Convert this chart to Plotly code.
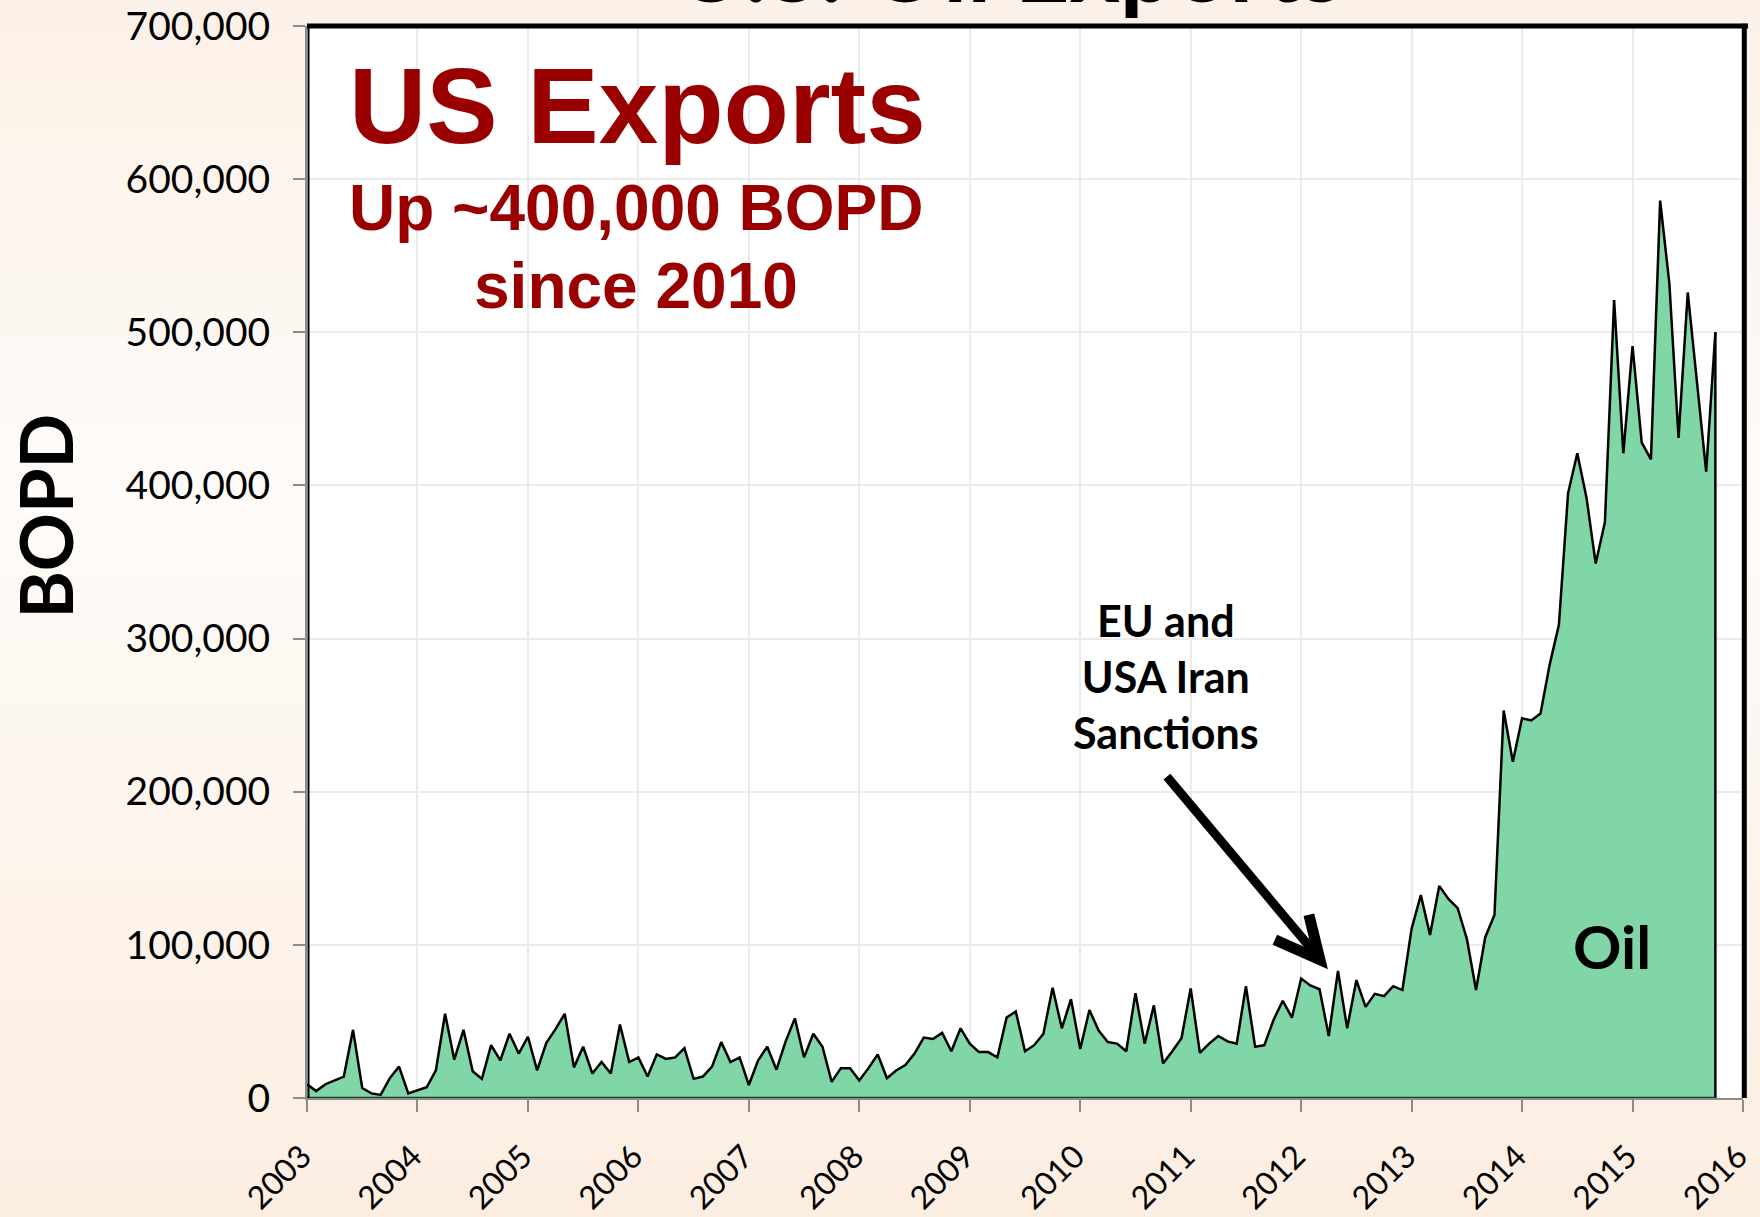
import plotly.graph_objects as go

# Monthly US crude oil exports, barrels of oil per day (BOPD)
years = list(range(2003, 2016))
exports_2003 = [9000, 4500, 9000, 11500, 14000, 44500, 6500, 3000, 2000, 13000, 20500, 3000]
exports_2004 = [5000, 7000, 18000, 55000, 25000, 44500, 17500, 12500, 34500, 24500, 42000, 29000]
exports_2005 = [40000, 18000, 36000, 45000, 55000, 20000, 33500, 16000, 23500, 16000, 48000, 23500]
exports_2006 = [26500, 14000, 28500, 25500, 26500, 32500, 12500, 14000, 20500, 36500, 23500, 26500]
exports_2007 = [8500, 24500, 33500, 18500, 37000, 52000, 26500, 42000, 33500, 10500, 19500, 19500]
exports_2008 = [11500, 19500, 28500, 13000, 18000, 21500, 29000, 39500, 38500, 42500, 30500, 45500]
exports_2009 = [35500, 30000, 30000, 26500, 52500, 56500, 30500, 34500, 42000, 72000, 45500, 64500]
exports_2010 = [32000, 57500, 44000, 36500, 35500, 30500, 68500, 35500, 60500, 22500, 30500, 39000]
exports_2011 = [71500, 29500, 35500, 40500, 37000, 35500, 73000, 33500, 34500, 51000, 63500, 52500]
exports_2012 = [78000, 73500, 71000, 40500, 83000, 45500, 77000, 59500, 68000, 66500, 73000, 70500]
exports_2013 = [110500, 132500, 106500, 138500, 130000, 124000, 104000, 70500, 105000, 119500, 253000, 219500]
exports_2014 = [248000, 246500, 251000, 283000, 309000, 395000, 421000, 392000, 349000, 376000, 521000, 421000]
exports_2015 = [491000, 428000, 417000, 586000, 532000, 431000, 526000, 467000, 409000, 500000]

monthly = [exports_2003, exports_2004, exports_2005, exports_2006, exports_2007,
           exports_2008, exports_2009, exports_2010, exports_2011, exports_2012,
           exports_2013, exports_2014, exports_2015]

tick_years = list(range(2003, 2017))
tick_year_text = [str(t) for t in tick_years]
y_ticks = [0, 100000, 200000, 300000, 400000, 500000, 600000, 700000]
y_tick_text = ["0", "100,000", "200,000", "300,000", "400,000", "500,000", "600,000", "700,000"]

# months placed at fractional years
x_vals, y_vals = [], []
for yr, vals in zip(years, monthly):
    for m, v in enumerate(vals):
        x_vals.append(yr + m / 12)
        y_vals.append(v)

W, H = 1760, 1217
ML, MR, MT, MB = 307, 17, 26, 119

DARK_RED = "#9a0000"
FILL = "#80d6a7"
GRID = "#ebebeb"
AXIS_GREY = "#8c8c8c"
CAL = "Lato, 'Noto Sans', sans-serif"
ARIAL = "'Liberation Sans', Arial, sans-serif"

fig = go.Figure()
fig.add_trace(go.Scatter(
    x=x_vals, y=y_vals, mode="lines", fill="tozeroy",
    fillcolor=FILL, line=dict(color="black", width=2.5),
    hoverinfo="skip",
))

shapes = []

# soft peach background, lighter toward the middle
plot_h = H - MT - MB
def py_to_paper(py):
    return (H - MB - py) / plot_h

top_c = (252, 241, 231)
mid_c = (254, 251, 248)
bot_c = (252, 237, 225)
n_bands = 40
for k in range(n_bands):
    y0 = H * k / n_bands
    y1 = H * (k + 1) / n_bands + 1
    t = (k + 0.5) / n_bands
    if t < 0.42:
        f = t / 0.42
        c = [top_c[i] + (mid_c[i] - top_c[i]) * f for i in range(3)]
    else:
        f = (t - 0.42) / 0.58
        c = [mid_c[i] + (bot_c[i] - mid_c[i]) * f for i in range(3)]
    shapes.append(dict(type="rect", xref="paper", yref="paper",
                       x0=-0.3, x1=1.1, y0=py_to_paper(y1), y1=py_to_paper(y0),
                       fillcolor="rgb(%d,%d,%d)" % tuple(int(round(v)) for v in c),
                       line=dict(width=0), layer="below"))
shapes.append(dict(type="rect", xref="paper", yref="paper", x0=0, x1=1, y0=0, y1=1,
                   fillcolor="white", line=dict(width=0), layer="below"))

# outline of the filled area: right edge and baseline
shapes.append(dict(type="line", xref="x", yref="y",
                   x0=x_vals[-1], x1=x_vals[-1], y0=0, y1=y_vals[-1],
                   line=dict(color="black", width=2.5)))
shapes.append(dict(type="line", xref="x", yref="y",
                   x0=x_vals[0], x1=x_vals[-1], y0=0, y1=0,
                   line=dict(color="#1e3b29", width=2.5)))

# plot frame: heavy top and right, thin left
shapes.append(dict(type="line", xref="paper", yref="paper", x0=0, x1=1.0035, y0=1, y1=1,
                   line=dict(color="black", width=5)))
shapes.append(dict(type="line", xref="paper", yref="paper", x0=1.0009, x1=1.0009, y0=0, y1=1.002,
                   line=dict(color="black", width=5)))
shapes.append(dict(type="line", xref="paper", yref="paper", xsizemode="pixel", xanchor=0,
                   x0=1.5, x1=1.5, y0=0, y1=1, line=dict(color="black", width=2)))

# arrow pointing at the sanctions period
shapes.append(dict(type="line", xref="x", yref="y",
                   x0=2010.785, y0=209800, x1=2012.15, y1=92500,
                   line=dict(color="black", width=9)))
shapes.append(dict(type="path", xref="x", yref="y",
                   path="M 2011.762,103300 L 2012.17,90300 L 2012.07,119700",
                   line=dict(color="black", width=11)))

annotations = [
    dict(text="U.S. Oil Exports", xref="paper", yref="paper", x=0.489, y=1.0,
         yanchor="bottom", xanchor="center", yshift=2, showarrow=False,
         font=dict(family=CAL, size=96, color="black", weight="bold")),
    dict(text="US Exports", xref="x", yref="y", x=2005.99, y=648000,
         showarrow=False, xanchor="center", yanchor="middle",
         font=dict(family=ARIAL, size=107, color=DARK_RED, weight="bold")),
    dict(text="Up ~400,000 BOPD", xref="x", yref="y", x=2005.98, y=581000,
         showarrow=False, xanchor="center", yanchor="middle",
         font=dict(family=ARIAL, size=64, color=DARK_RED, weight="bold")),
    dict(text="since 2010", xref="x", yref="y", x=2005.98, y=530000,
         showarrow=False, xanchor="center", yanchor="middle",
         font=dict(family=ARIAL, size=64, color=DARK_RED, weight="bold")),
    dict(text="EU and<br>USA Iran<br>Sanctions", xref="x", yref="y", x=2010.78, y=275000,
         showarrow=False, xanchor="center", yanchor="middle", align="center",
         font=dict(family=CAL, size=43, color="black", weight="bold")),
    dict(text="Oil", xref="x", yref="y", x=2014.81, y=99500,
         showarrow=False, xanchor="center", yanchor="middle",
         font=dict(family=CAL, size=60, color="black", weight="bold")),
    dict(text="BOPD", xref="paper", yref="paper", x=-0.1827, y=0.543,
         showarrow=False, xanchor="center", yanchor="middle", textangle=-90,
         font=dict(family=CAL, size=72, color="black", weight="bold")),
]

fig.update_layout(
    width=W, height=H, autosize=False,
    margin=dict(l=ML, r=MR, t=MT, b=MB, pad=0, autoexpand=False),
    paper_bgcolor="#fdf6f0", plot_bgcolor="white",
    showlegend=False, shapes=shapes, annotations=annotations,
)
fig.update_xaxes(
    range=[2003, 2016.0001], tickvals=tick_years, ticktext=tick_year_text, tickangle=-45,
    ticks="outside", ticklen=12, tickwidth=2, tickcolor=AXIS_GREY,
    showline=True, linecolor=AXIS_GREY, linewidth=2, automargin=False,
    showgrid=True, gridcolor=GRID, gridwidth=1.5, zeroline=False,
    tickfont=dict(family=CAL, size=32, color="black"), ticklabelstandoff=13,
    ticklabelshift=-5, ticklabeloverflow="allow",
)
fig.update_yaxes(
    range=[0, 700000], tickvals=y_ticks, ticktext=y_tick_text,
    ticks="outside", ticklen=12, tickwidth=2, tickcolor=AXIS_GREY,
    showline=True, linecolor=AXIS_GREY, linewidth=2, automargin=False,
    showgrid=True, gridcolor=GRID, gridwidth=1.5, zeroline=False,
    tickfont=dict(family=CAL, size=39, color="black"), ticklabelstandoff=15,
    ticklabeloverflow="allow",
)

fig.write_html("out.html")
